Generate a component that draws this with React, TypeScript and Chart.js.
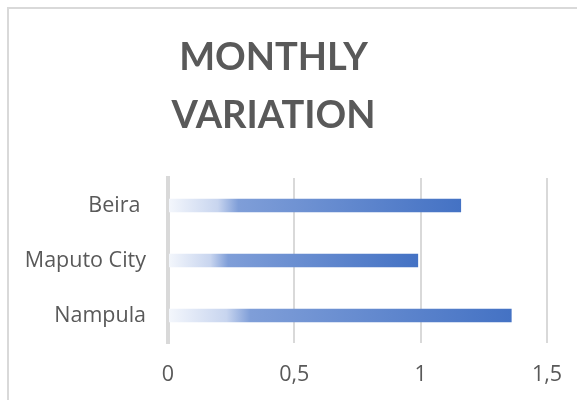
import React, { useEffect, useRef } from "react";
import { Chart, registerables } from "chart.js";

Chart.register(...registerables);

const categories = ["Beira ", "Maputo City", "Nampula"];
const values = [1.16, 0.99, 1.36];
const xTickValues = [0, 0.5, 1, 1.5];
const xTickLabels = ["0", "0,5", "1", "1,5"];
const titleLines = ["MONTHLY", "VARIATION"];

const TEXT = "#595959";
const GRID = "#d9d9d9";
const FONT = "'Open Sans', sans-serif";
const TITLE_FONT = "Lato, 'Open Sans', sans-serif";

export default function App() {
  const ref = useRef<HTMLCanvasElement | null>(null);

  useEffect(() => {
    const canvas = ref.current;
    if (!canvas) return;
    const chart = new Chart(canvas, {
      type: "bar",
      data: {
        labels: categories,
        datasets: [
          {
            data: values,
            backgroundColor: (ctx: any) => {
              const c = ctx.chart;
              if (!c.chartArea || ctx.type !== "data" || !c.scales.x) return "#4472c4";
              const x0 = c.scales.x.getPixelForValue(0);
              const x1 = c.scales.x.getPixelForValue(ctx.raw);
              const g = c.ctx.createLinearGradient(x0, 0, x1, 0);
              g.addColorStop(0, "#f4f7fc");
              g.addColorStop(0.17, "#c8d5ef");
              g.addColorStop(0.24, "#7f9ed8");
              g.addColorStop(1, "#4472c4");
              return g;
            },
            borderWidth: 0,
            categoryPercentage: 1,
            barPercentage: 0.245,
          },
        ],
      },
      options: {
        indexAxis: "y",
        responsive: false,
        animation: false,
        layout: { padding: { left: 0, right: 30, top: 0, bottom: 0 } },
        plugins: {
          legend: { display: false },
          tooltip: { enabled: false },
          title: {
            display: true,
            text: titleLines,
            color: TEXT,
            font: { family: TITLE_FONT, size: 38, weight: "bold", lineHeight: "58px" },
            padding: { top: 29, bottom: 33 },
          },
        },
        scales: {
          x: {
            type: "linear",
            min: 0,
            max: 1.5,
            afterBuildTicks: (axis: any) => {
              axis.ticks = xTickValues.map((v) => ({ value: v }));
            },
            afterFit: (axis: any) => {
              axis.height = 57;
            },
            grid: {
              display: true,
              color: GRID,
              lineWidth: 2,
              drawTicks: true,
              tickLength: 19,
              tickColor: "rgba(0,0,0,0)",
            },
            border: { display: false },
            ticks: {
              color: TEXT,
              font: { family: FONT, size: 21.5 },
              padding: 0,
              callback: (v: any) => {
                const i = xTickValues.indexOf(Number(v));
                return i >= 0 ? xTickLabels[i] : "";
              },
            },
          },
          y: {
            afterFit: (axis: any) => {
              axis.width = 168;
            },
            grid: { display: false, drawTicks: false },
            border: { display: true, color: GRID, width: 4 },
            ticks: {
              color: TEXT,
              font: { family: FONT, size: 21.5 },
              padding: 22,
            },
          },
        },
      },
    } as any);
    return () => chart.destroy();
  }, []);

  return (
    <div style={{ position: "fixed", left: 0, top: 0, width: 577, height: 400, background: "#fff", overflow: "hidden" }}>
      <div
        style={{
          position: "absolute",
          left: 7,
          top: 7,
          width: 620,
          height: 460,
          border: `2px solid ${GRID}`,
          boxSizing: "border-box",
        }}
      />
      <canvas ref={ref} width={577} height={400} style={{ position: "absolute", left: 0, top: 0 }} />
    </div>
  );
}
